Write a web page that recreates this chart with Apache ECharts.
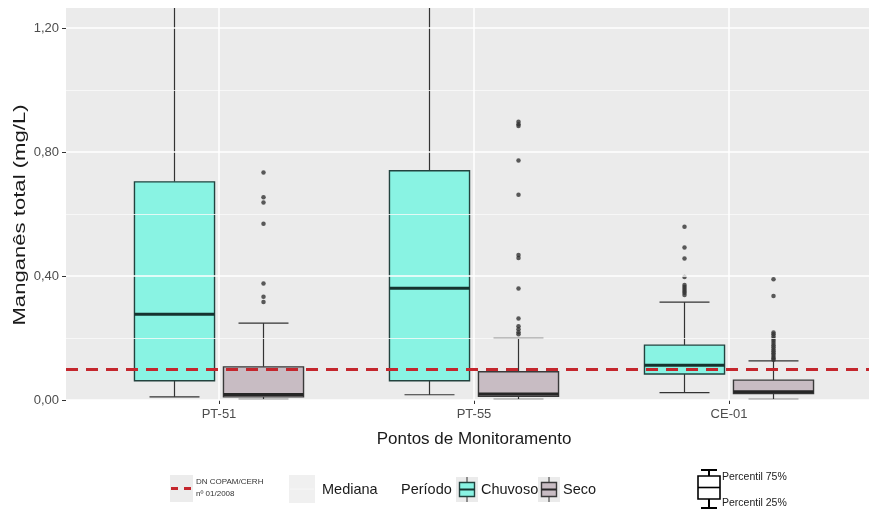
<!DOCTYPE html>
<html>
<head>
<meta charset="utf-8">
<script src="https://cdn.jsdelivr.net/npm/echarts@6/dist/echarts.min.js"></script>
<style>html,body{margin:0;padding:0;background:#fff}#c{width:869px;height:511px}</style>
</head>
<body>
<div id="c"></div>
<script>
// ---- data ----
const categories = ['PT-51', 'PT-55', 'CE-01'];
const periods = ['Chuvoso', 'Seco'];
// [min(whisker), Q1, median, Q3, max(whisker)] per category
const chuvosoBoxes = [
  [0.010, 0.062, 0.277, 0.704, 1.600],
  [0.017, 0.062, 0.361, 0.740, 1.650],
  [0.024, 0.084, 0.112, 0.177, 0.316]
];
const secoBoxes = [
  [0.002, 0.010, 0.018, 0.107, 0.248],
  [0.002, 0.012, 0.019, 0.091, 0.199],
  [0.002, 0.021, 0.027, 0.064, 0.126]
];
const chuvosoOutliers = [
  [],
  [],
  [0.559, 0.492, 0.457, 0.397, 0.371, 0.365, 0.358, 0.352, 0.346, 0.339]
];
const secoOutliers = [
  [0.734, 0.654, 0.637, 0.569, 0.376, 0.333, 0.316],
  [0.898, 0.890, 0.884, 0.773, 0.662, 0.468, 0.458, 0.360, 0.263, 0.238, 0.228, 0.219, 0.212],
  [0.390, 0.336, 0.218, 0.212, 0.205, 0.198, 0.191, 0.184, 0.177, 0.170, 0.163, 0.157, 0.151, 0.145, 0.139, 0.134, 0.130]
];
const threshold = 0.1;
const yTicks = [0, 0.4, 0.8, 1.2];
const yMinorTicks = [0.2, 0.6, 1.0];
const xTicks = [1, 2, 3];

// ---- layout / style constants ----
const DODGE = 0.1745, BOX_W = 0.314, CAP_W = 0.196;
const colors = { Chuvoso: '#89f3e3', Seco: '#c8bcc3' };
const borders = { Chuvoso: '#22433f', Seco: '#3a3a3a' };
const medianCol = { Chuvoso: '#15332f', Seco: '#262626' };
const FONT = 'Liberation Sans';
const LEG = 14.5;

function boxData(boxes, off) {
  return boxes.map((b, i) => [xTicks[i] + off].concat(b));
}
function outData(outs, off) {
  const r = [];
  outs.forEach((arr, i) => arr.forEach(v => r.push([xTicks[i] + off, v])));
  return r;
}

function makeRender(period) {
  return function (params, api) {
    const cs = params.coordSys;
    const top = cs.y, bot = cs.y + cs.height;
    const clampY = y => Math.max(top, Math.min(bot, y));
    const x = api.value(0);
    const c = api.coord([x, 0])[0];
    const hw = api.size([BOX_W, 0])[0] / 2;
    const cw = api.size([CAP_W, 0])[0] / 2;
    const yMin = clampY(api.coord([x, api.value(1)])[1]);
    const yQ1 = clampY(api.coord([x, api.value(2)])[1]);
    const yMed = clampY(api.coord([x, api.value(3)])[1]);
    const yQ3 = clampY(api.coord([x, api.value(4)])[1]);
    const yMax = clampY(api.coord([x, api.value(5)])[1]);
    const ls = { stroke: '#333', lineWidth: 1.2 };
    const children = [
      { type: 'line', shape: { x1: c, y1: yQ3, x2: c, y2: yMax }, style: ls },
      { type: 'line', shape: { x1: c, y1: yQ1, x2: c, y2: yMin }, style: ls },
      { type: 'line', shape: { x1: c - cw, y1: yMin, x2: c + cw, y2: yMin }, style: ls },
      { type: 'rect', shape: { x: c - hw, y: yQ3, width: 2 * hw, height: yQ1 - yQ3 },
        style: { fill: colors[period], stroke: borders[period], lineWidth: 1.4 } },
      { type: 'line', shape: { x1: c - hw, y1: yMed, x2: c + hw, y2: yMed },
        style: { stroke: medianCol[period], lineWidth: 3 } }
    ];
    if (yMax > top + 1) {
      children.push({ type: 'line', shape: { x1: c - cw, y1: yMax, x2: c + cw, y2: yMax }, style: ls });
    }
    return { type: 'group', children: children };
  };
}

const chart = echarts.init(document.getElementById('c'), null, { renderer: 'canvas' });
const fmt = v => v.toFixed(2).replace('.', ',');
const txt = '#1a1a1a';

const option = {
  animation: false,
  backgroundColor: '#ffffff',
  grid: { left: 66, top: 8, width: 816, height: 392, show: true, backgroundColor: '#ebebeb', borderWidth: 0,
    outerBoundsMode: 'none', containLabel: false },
  xAxis: {
    type: 'value', min: 0.4, max: 3.6,
    name: 'Pontos de Monitoramento', nameLocation: 'middle', nameGap: 31,
    nameTextStyle: { fontSize: 17, color: txt, fontFamily: FONT },
    axisLine: { show: false },
    axisTick: { show: true, customValues: xTicks, length: 4, lineStyle: { color: '#333' } },
    axisLabel: { customValues: xTicks, formatter: v => categories[Math.round(v) - 1] || '',
      fontSize: 13, color: '#4d4d4d', margin: 8, fontFamily: FONT },
    splitLine: { show: false }
  },
  yAxis: {
    type: 'value', min: 0, max: 1.265,
    axisLine: { show: false },
    axisTick: { show: true, customValues: yTicks, length: 4, lineStyle: { color: '#333' } },
    axisLabel: { customValues: yTicks, formatter: fmt, fontSize: 13, color: '#4d4d4d', margin: 7, fontFamily: FONT },
    splitLine: { show: false }
  },
  series: [
    {
      type: 'line', data: [], silent: true, z: 1,
      markLine: {
        silent: true, symbol: 'none', label: { show: false }, animation: false,
        data: yTicks.map(v => ({ yAxis: v, lineStyle: { color: '#ffffff', width: 1.5, type: 'solid' } }))
          .concat(yMinorTicks.map(v => ({ yAxis: v, lineStyle: { color: '#fafafa', width: 0.8, type: 'solid' } })))
          .concat(xTicks.map(v => ({ xAxis: v, lineStyle: { color: '#ffffff', width: 1.5, type: 'solid' } })))
      }
    },
    { name: 'Chuvoso', type: 'custom', z: 3, renderItem: makeRender('Chuvoso'),
      encode: { x: 0, y: [1, 2, 3, 4, 5] }, data: boxData(chuvosoBoxes, -DODGE) },
    { name: 'Seco', type: 'custom', z: 3, renderItem: makeRender('Seco'),
      encode: { x: 0, y: [1, 2, 3, 4, 5] }, data: boxData(secoBoxes, DODGE) },
    { type: 'scatter', z: 4, symbol: 'circle', symbolSize: 4.5, itemStyle: { color: '#333' },
      data: outData(chuvosoOutliers, -DODGE) },
    { type: 'scatter', z: 4, symbol: 'circle', symbolSize: 4.5, itemStyle: { color: '#333' },
      data: outData(secoOutliers, DODGE) },
    {
      type: 'line', data: [], silent: true, z: 6,
      markLine: {
        silent: true, symbol: 'none', label: { show: false }, animation: false,
        lineStyle: { color: '#c4262d', width: 3, type: [12, 8] },
        data: [{ yAxis: threshold }]
      }
    }
  ],
  graphic: [
    // y axis title (stretched like the reference)
    { type: 'text', x: 20, y: 215, rotation: Math.PI / 2, scaleX: 1.3,
      style: { text: 'Manganês total (mg/L)', fontSize: 17, fill: txt, fontFamily: FONT, align: 'center', verticalAlign: 'middle' } },
    // legend key: threshold
    { type: 'rect', shape: { x: 170, y: 475, width: 23, height: 27 }, style: { fill: '#ececec' } },
    { type: 'line', shape: { x1: 171, y1: 488.5, x2: 178, y2: 488.5 }, style: { stroke: '#c4262d', lineWidth: 3 } },
    { type: 'line', shape: { x1: 184, y1: 488.5, x2: 191, y2: 488.5 }, style: { stroke: '#c4262d', lineWidth: 3 } },
    { type: 'text', x: 196, y: 482, style: { text: 'DN COPAM/CERH', fontSize: 8, fill: '#333', fontFamily: FONT, verticalAlign: 'middle' } },
    { type: 'text', x: 196, y: 494, style: { text: 'nº 01/2008', fontSize: 8, fill: '#333', fontFamily: FONT, verticalAlign: 'middle' } },
    // legend key: median
    { type: 'rect', shape: { x: 289, y: 475, width: 26, height: 28 }, style: { fill: '#f0f0f0' } },
    { type: 'line', shape: { x1: 290, y1: 489, x2: 314, y2: 489 }, style: { stroke: '#f7f7f7', lineWidth: 1 } },
    { type: 'text', x: 322, y: 490, style: { text: 'Mediana', fontSize: LEG, fill: txt, fontFamily: FONT, verticalAlign: 'middle' } },
    { type: 'text', x: 401, y: 490, style: { text: 'Período', fontSize: LEG, fill: txt, fontFamily: FONT, verticalAlign: 'middle' } },
    // Chuvoso key
    { type: 'rect', shape: { x: 456, y: 477, width: 22, height: 25 }, style: { fill: '#ebebeb' } },
    { type: 'line', shape: { x1: 467, y1: 477, x2: 467, y2: 502 }, style: { stroke: '#333', lineWidth: 1 } },
    { type: 'rect', shape: { x: 459.5, y: 482.5, width: 15, height: 14 }, style: { fill: colors.Chuvoso, stroke: borders.Chuvoso, lineWidth: 1.4 } },
    { type: 'line', shape: { x1: 459.5, y1: 489.5, x2: 474.5, y2: 489.5 }, style: { stroke: medianCol.Chuvoso, lineWidth: 2 } },
    { type: 'text', x: 481, y: 490, style: { text: 'Chuvoso', fontSize: LEG, fill: txt, fontFamily: FONT, verticalAlign: 'middle' } },
    // Seco key
    { type: 'rect', shape: { x: 538, y: 477, width: 22, height: 25 }, style: { fill: '#ebebeb' } },
    { type: 'line', shape: { x1: 549, y1: 477, x2: 549, y2: 502 }, style: { stroke: '#333', lineWidth: 1 } },
    { type: 'rect', shape: { x: 541.5, y: 482.5, width: 15, height: 14 }, style: { fill: colors.Seco, stroke: borders.Seco, lineWidth: 1.4 } },
    { type: 'line', shape: { x1: 541.5, y1: 489.5, x2: 556.5, y2: 489.5 }, style: { stroke: medianCol.Seco, lineWidth: 2 } },
    { type: 'text', x: 563, y: 490, style: { text: 'Seco', fontSize: LEG, fill: txt, fontFamily: FONT, verticalAlign: 'middle' } },
    // percentile glyph
    { type: 'line', shape: { x1: 701, y1: 470, x2: 717, y2: 470 }, style: { stroke: '#000', lineWidth: 2 } },
    { type: 'line', shape: { x1: 709, y1: 470, x2: 709, y2: 476 }, style: { stroke: '#000', lineWidth: 2 } },
    { type: 'rect', shape: { x: 698, y: 476, width: 22, height: 23 }, style: { fill: '#fff', stroke: '#000', lineWidth: 1.6 } },
    { type: 'line', shape: { x1: 698, y1: 487.5, x2: 720, y2: 487.5 }, style: { stroke: '#000', lineWidth: 1.6 } },
    { type: 'line', shape: { x1: 709, y1: 499, x2: 709, y2: 508 }, style: { stroke: '#000', lineWidth: 2 } },
    { type: 'line', shape: { x1: 701, y1: 508, x2: 717, y2: 508 }, style: { stroke: '#000', lineWidth: 2 } },
    { type: 'text', x: 722, y: 477, style: { text: 'Percentil 75%', fontSize: 10.5, fill: '#222', fontFamily: FONT, verticalAlign: 'middle' } },
    { type: 'text', x: 722, y: 503, style: { text: 'Percentil 25%', fontSize: 10.5, fill: '#222', fontFamily: FONT, verticalAlign: 'middle' } }
  ]
};
chart.setOption(option);
</script>
</body>
</html>
